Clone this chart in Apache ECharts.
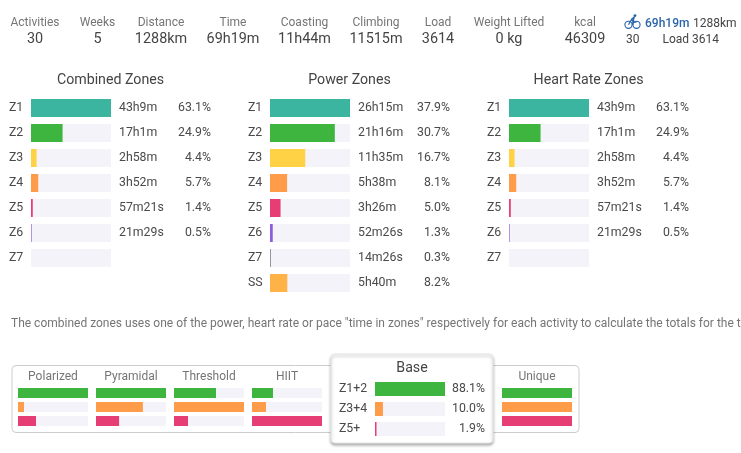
<!DOCTYPE html>
<html><head><meta charset="utf-8">
<style>html,body{margin:0;padding:0;background:#fff}#c{width:741px;height:453px}</style>
<script src="https://cdn.jsdelivr.net/npm/echarts@6/dist/echarts.min.js"></script>
</head><body><div id="c"></div>
<script>
const statLabels=['Activities','Weeks','Distance','Time','Coasting','Climbing','Load','Weight Lifted','kcal'];
const statValues=['30','5','1288km','69h19m','11h44m','11515m','3614','0 kg','46309'];
const rideTime='69h19m', rideDistance='1288km', rideCount='30', rideLoad='Load 3614';

const combinedZones=['Z1','Z2','Z3','Z4','Z5','Z6','Z7'];
const combinedPct=[63.1,24.9,4.4,5.7,1.4,0.5,null];
const combinedTimes=['43h9m','17h1m','2h58m','3h52m','57m21s','21m29s',''];

const powerZones=['Z1','Z2','Z3','Z4','Z5','Z6','Z7','SS'];
const powerPct=[37.9,30.7,16.7,8.1,5.0,1.3,0.3,8.2];
const powerTimes=['26h15m','21h16m','11h35m','5h38m','3h26m','52m26s','14m26s','5h40m'];

const hrZones=['Z1','Z2','Z3','Z4','Z5','Z6','Z7'];
const hrPct=[63.1,24.9,4.4,5.7,1.4,0.5,null];
const hrTimes=['43h9m','17h1m','2h58m','3h52m','57m21s','21m29s',''];

const note='The combined zones uses one of the power, heart rate or pace "time in zones" respectively for each activity to calculate the totals for the time period.';

const bands=['Z1+2','Z3+4','Z5+'];
const polarized=[100,8.6,25.7];
const pyramidal=[100,67,33];
const threshold=[60,100,20];
const hiit=[30,20,100];
const unique=[100,100,100];
const basePct=[88.1,10.0,1.9];

const zoneColors={Z1:'#3cb5a0',Z2:'#3db53f',Z3:'#ffd246',Z4:'#ff9c4a',Z5:'#e63e74',Z6:'#8a5fdb',Z7:'#5f5f7a',SS:'#ffb347','Z1+2':'#3db53f','Z3+4':'#ff9c4a','Z5+':'#e63e74'};
const TRACK='#f3f3f9', FONT='Roboto';

const grid=[],xAxis=[],yAxis=[],series=[];
function panel(o){
  const g=grid.length;
  grid.push({left:o.left,top:o.top,width:o.width,height:o.step*o.cats.length,containLabel:false});
  const max=Math.max(...o.values.filter(v=>v!=null));
  xAxis.push({gridIndex:g,type:'value',min:0,max:o.max||max,show:false,splitLine:{show:false}});
  const y0=yAxis.length;
  const base={gridIndex:g,type:'category',inverse:true,z:3,data:o.cats,axisLine:{show:false},axisTick:{show:false},splitLine:{show:false}};
  const lab=(align,margin)=>({interval:0,align,margin,color:'#4a4a4a',fontFamily:FONT,fontSize:12.3});
  yAxis.push(Object.assign({},base,{show:!!o.labelMargin,axisLabel:lab('left',o.labelMargin||0)}));
  if(o.times) yAxis.push(Object.assign({},base,{data:o.times,position:'right',axisLabel:lab('left',8)}));
  if(o.pctLabels) yAxis.push(Object.assign({},base,{data:o.pctLabels,position:'right',axisLabel:lab('right',o.pctMargin)}));
  series.push({type:'bar',xAxisIndex:g,yAxisIndex:y0,data:o.values,barWidth:o.barW,z:3,silent:true,showBackground:true,backgroundStyle:{color:TRACK},
    itemStyle:{color:p=>zoneColors[o.cats[p.dataIndex]]}});
}
const pct=a=>a.map(v=>v==null?'':v.toFixed(1)+'%');
panel({left:31,top:95.5,width:80,step:25,barW:18,cats:combinedZones,values:combinedPct,times:combinedTimes,pctLabels:pct(combinedPct),pctMargin:100,labelMargin:22});
panel({left:270,top:95.5,width:80,step:25,barW:18,cats:powerZones,values:powerPct,times:powerTimes,pctLabels:pct(powerPct),pctMargin:100,labelMargin:22});
panel({left:509,top:95.5,width:80,step:25,barW:18,cats:hrZones,values:hrPct,times:hrTimes,pctLabels:pct(hrPct),pctMargin:100,labelMargin:22});
[[18,polarized],[96,pyramidal],[174,threshold],[252,hiit],[502,unique]].forEach(([l,v])=>
  panel({left:l,top:386,width:70,step:14,barW:10,cats:bands,values:v,max:100}));
panel({left:375,top:379,width:70,step:20,barW:14,cats:bands,values:basePct,pctLabels:pct(basePct),pctMargin:40,labelMargin:36});

const txt=(text,x,y,size,color,align,weight)=>({type:'text',x,y,z:5,silent:true,style:{text,x:0,y:0,fontFamily:FONT,fontSize:size,fill:color,align:align||'center',verticalAlign:'middle',fontWeight:weight||400}});
const statX=[35,97.5,161,233,304.5,376,438,509,585];
const g=[];
statLabels.forEach((s,i)=>{g.push(txt(s,statX[i],22.5,12,'#757575'));g.push(txt(statValues[i],statX[i],39.5,14.4,'#444'));});
g.push(txt(rideTime,645,24,12,'#2b65a8','left',500));
g.push(txt(rideDistance,693,24,12,'#444','left'));
g.push(txt(rideCount,626,40,12,'#444','left'));
g.push(txt(rideLoad,662.5,40,12,'#444','left'));
g.push({type:'group',x:624,y:14,z:5,silent:true,children:[
  {type:'circle',shape:{cx:4.5,cy:10.8,r:3.6},style:{fill:'none',stroke:'#2b65a8',lineWidth:1.1}},
  {type:'circle',shape:{cx:12.5,cy:10.8,r:3.6},style:{fill:'none',stroke:'#2b65a8',lineWidth:1.1}},
  {type:'polyline',shape:{points:[[4.5,10.8],[7.5,5.5],[10,8],[12.5,8]]},style:{fill:'none',stroke:'#2b65a8',lineWidth:1.3}},
  {type:'polyline',shape:{points:[[7.5,5.5],[10,3.2],[8.5,10.8]]},style:{fill:'none',stroke:'#2b65a8',lineWidth:1.5}},
  {type:'circle',shape:{cx:11,cy:1.6,r:1.4},style:{fill:'#2b65a8'}}
]});
g.push(txt('Combined Zones',110.5,80,14.2,'#444'));
g.push(txt('Power Zones',349.5,80,14.2,'#444'));
g.push(txt('Heart Rate Zones',588.5,80,14.2,'#444'));
g.push(txt(note,11,323.5,12,'#757575','left'));
g.push({type:'rect',shape:{x:12,y:365.5,width:567,height:67,r:4},z:0,silent:true,style:{fill:'#fff',stroke:'#ccc',lineWidth:1}});
[['Polarized',53],['Pyramidal',131],['Threshold',209],['HIIT',287],['Unique',537]].forEach(([s,x])=>g.push(txt(s,x,376.5,12,'#757575')));
g.push({type:'rect',shape:{x:331,y:354,width:162,height:89,r:4},z:1,silent:true,style:{fill:'#fff',stroke:'#e6e6e6',lineWidth:1,shadowBlur:3,shadowOffsetY:2,shadowColor:'rgba(0,0,0,0.3)'}});
g.push(txt('Base',412,368,14.2,'#444'));

const chart=echarts.init(document.getElementById('c'),null,{renderer:'canvas'});
chart.setOption({animation:false,backgroundColor:'#fff',grid,xAxis,yAxis,series,graphic:{elements:g}});
</script></body></html>
